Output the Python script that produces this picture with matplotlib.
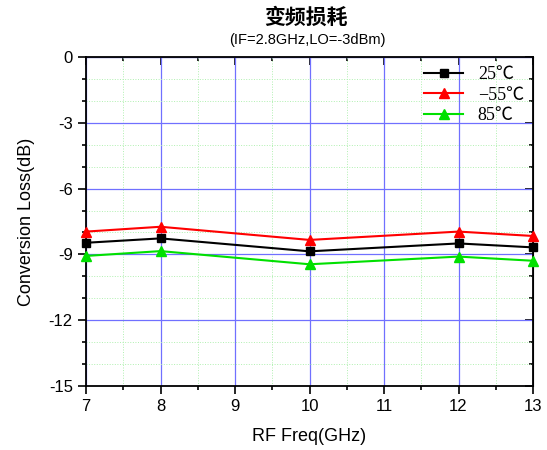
import matplotlib
matplotlib.use("Agg")
import matplotlib.pyplot as plt
from matplotlib.ticker import MultipleLocator

freq = [7, 8, 10, 12, 13]
loss_25 = [-8.47, -8.27, -8.86, -8.50, -8.68]
loss_m55 = [-7.96, -7.74, -8.34, -7.96, -8.16]
loss_85 = [-9.07, -8.85, -9.45, -9.10, -9.29]
labels = ["25℃", "−55℃", "85℃"]

plt.rcParams['font.family'] = ['Liberation Sans', 'Noto Sans CJK SC']
plt.rcParams['axes.unicode_minus'] = False

fig = plt.figure(figsize=(5.47, 4.5), dpi=100)
ax = fig.add_axes([86/547, 1-386/450, (533-86)/547, (386-57)/450])

ax.xaxis.set_major_locator(MultipleLocator(1))
ax.xaxis.set_minor_locator(MultipleLocator(0.5))
ax.yaxis.set_major_locator(MultipleLocator(3))
ax.yaxis.set_minor_locator(MultipleLocator(1))

ax.grid(which='major', color='#7070ff', lw=0.9)
ax.grid(which='minor', color='#b0f0b0', lw=0.7, ls=':')
ax.set_axisbelow(True)

ax.plot(freq, loss_25, color='black', marker='s', ms=6, lw=1.5, label=labels[0], clip_on=False, zorder=5)
ax.plot(freq, loss_m55, color='red', marker='^', ms=7, lw=1.5, label=labels[1], clip_on=False, zorder=5)
ax.plot(freq, loss_85, color='#00e000', marker='^', ms=7, lw=1.5, label=labels[2], clip_on=False, zorder=5)

ax.set_xlim(7, 13)
ax.set_ylim(-15, 0)

ax.tick_params(which='both', direction='out', labelsize=12, width=1.2)
ax.tick_params(which='major', length=6)
ax.tick_params(which='minor', length=3)
for s in ax.spines.values():
    s.set_linewidth(1.3)

top = ax.secondary_xaxis('top')
top.xaxis.set_major_locator(MultipleLocator(1))
top.xaxis.set_minor_locator(MultipleLocator(0.5))
top.tick_params(which='both', direction='in', labeltop=False, width=1.2)
top.tick_params(which='major', length=6)
top.tick_params(which='minor', length=3)
right = ax.secondary_yaxis('right')
right.yaxis.set_major_locator(MultipleLocator(3))
right.yaxis.set_minor_locator(MultipleLocator(1))
right.tick_params(which='both', direction='in', labelright=False, width=1.2)
right.tick_params(which='major', length=6)
right.tick_params(which='minor', length=3)

ax.set_xlabel('RF Freq(GHz)', fontsize=13, labelpad=10)
ax.set_ylabel('Conversion Loss(dB)', fontsize=13, labelpad=10)

fig.text(306/547, 1-17/450, '变频损耗', ha='center', va='center', fontsize=15,
         family=['Noto Sans CJK SC'], weight='semibold')
fig.text(307/547, 1-40/450, '(IF=2.8GHz,LO=-3dBm)', ha='center', va='center', fontsize=10.5)

leg = ax.legend(loc='upper right', prop={'family': ['Liberation Serif', 'Noto Sans CJK SC'], 'size': 13},
                frameon=False, handlelength=2.2, borderaxespad=0.2, labelspacing=0.2, borderpad=0.3)

fig.savefig('out.png', dpi=100)
